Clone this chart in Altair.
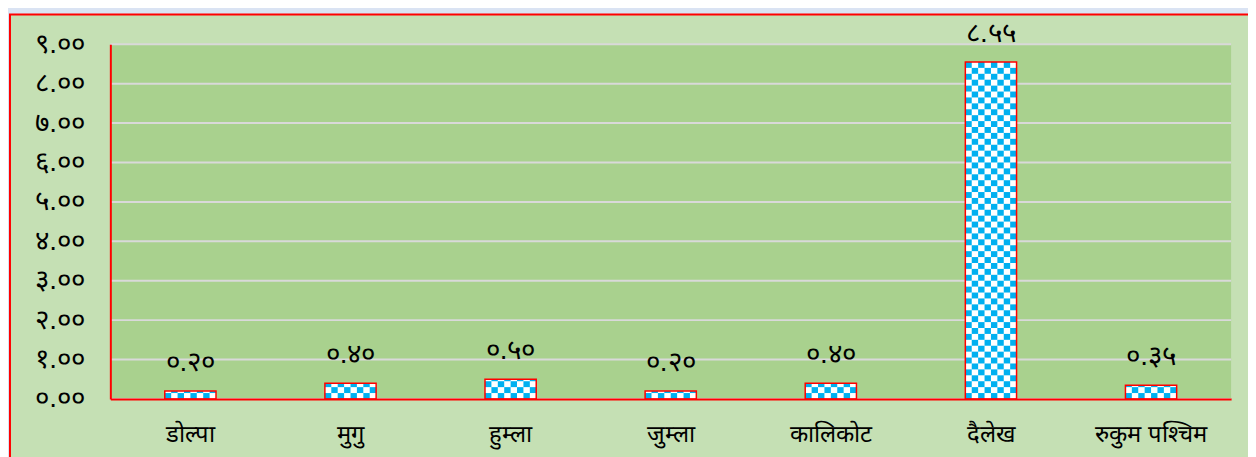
import json
import math
import altair as alt
import pandas as pd

categories = ["डोल्पा", "मुगु", "हुम्ला", "जुम्ला", "कालिकोट", "दैलेख", "रुकुम पश्चिम"]
values = [0.20, 0.40, 0.50, 0.20, 0.40, 8.55, 0.35]
value_labels = ["०.२०", "०.४०", "०.५०", "०.२०", "०.४०", "८.५५", "०.३५"]
y_ticks = [0, 1, 2, 3, 4, 5, 6, 7, 8, 9]
y_tick_labels = ["०.००", "१.००", "२.००", "३.००", "४.००", "५.००", "६.००", "७.००", "८.००", "९.००"]

W, H = 1128, 357

df = pd.DataFrame({"cat": categories, "val": values, "lab": value_labels})

CELL = 0.15
NCOL = 8
tiles = []
for c, v in zip(categories, values):
    nrows = math.ceil(v / CELL - 1e-9)
    for r in range(nrows):
        for k in range(NCOL):
            if (r + k) % 2 == 0:
                tiles.append({"cat": c, "col": k, "y0": r * CELL, "y1": min((r + 1) * CELL, v)})
tiles_df = pd.DataFrame(tiles)

grid_df = pd.DataFrame({"t": y_ticks})
one = pd.DataFrame({"k": [0]})

xscale = alt.Scale(domain=categories, paddingInner=0.68, paddingOuter=0.34)
yscale = alt.Scale(domain=[0, 9], nice=False)

ylabel_expr = json.dumps(y_tick_labels, ensure_ascii=False) + "[round(datum.value)]"
yaxis = alt.Axis(title=None, values=y_ticks, labelExpr=ylabel_expr, labelFontSize=28,
                 labelPadding=26, labelColor="#000000", zindex=2, grid=False, ticks=False,
                 domainColor="#ff0000", domainWidth=2)
xaxis = alt.Axis(title=None, labelAngle=0, labelFontSize=24, labelPadding=24,
                 labelColor="#000000", zindex=2, grid=False, ticks=False,
                 domainColor="#ff0000", domainWidth=2)

outer = alt.Chart(one).mark_rect(fill="#c5e0b4", stroke="#ff0000", strokeWidth=2).encode(
    x=alt.value(-101), x2=alt.value(W + 200), y=alt.value(-30), y2=alt.value(H + 200)
)
plotbg = alt.Chart(one).mark_rect(fill="#a9d18e").encode(
    x=alt.value(0), x2=alt.value(W), y=alt.value(0), y2=alt.value(H)
)
grid = alt.Chart(grid_df).mark_rule(color="#d9d9d9", strokeWidth=2).encode(
    y=alt.Y("t:Q", scale=yscale, axis=yaxis), x=alt.value(0), x2=alt.value(W)
)

bars = alt.Chart(df).mark_bar(fill="white").encode(
    x=alt.X("cat:N", scale=xscale, sort=categories, axis=xaxis),
    y=alt.Y("val:Q", scale=yscale, axis=yaxis),
)
tile_layer = alt.Chart(tiles_df).mark_bar(fill="#00b0f0").encode(
    x=alt.X("cat:N", scale=xscale, sort=categories, axis=xaxis),
    xOffset=alt.XOffset("col:O", scale=alt.Scale(paddingInner=0, paddingOuter=0)),
    y=alt.Y("y0:Q", scale=yscale, axis=yaxis),
    y2="y1:Q",
)
outline = alt.Chart(df).mark_bar(fill=None, fillOpacity=0, stroke="#ff0000", strokeWidth=1.5).encode(
    x=alt.X("cat:N", scale=xscale, sort=categories, axis=xaxis),
    y=alt.Y("val:Q", scale=yscale, axis=yaxis),
)
texts = alt.Chart(df).mark_text(fontSize=28, dy=-28, baseline="middle", color="#000000").encode(
    x=alt.X("cat:N", scale=xscale, sort=categories, axis=xaxis),
    y=alt.Y("val:Q", scale=yscale, axis=yaxis),
    text="lab:N",
)

chart = alt.layer(outer, plotbg, grid, bars, tile_layer, outline, texts).properties(
    width=W, height=H,
    autosize=alt.AutoSizeParams(type="none"),
    padding={"left": 103, "top": 35, "right": 17, "bottom": 65},
    background="#dae3f3",
).configure_view(stroke=None)

chart.save("out.html", embed_options={"renderer": "svg", "actions": False})
